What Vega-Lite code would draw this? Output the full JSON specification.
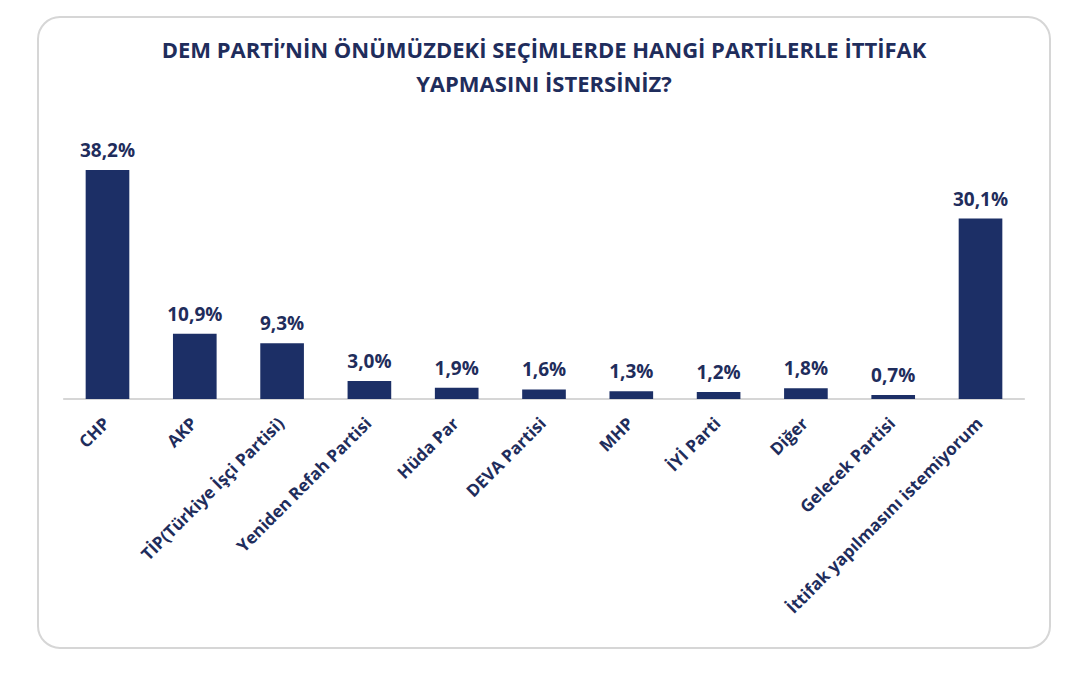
{
  "$schema": "https://vega.github.io/schema/vega-lite/v6.json",
  "width": 1012,
  "height": 631,
  "autosize": {"type": "none"},
  "padding": {"left": 38, "top": 17, "right": 18, "bottom": 36},
  "background": "white",
  "config": {
    "view": {"stroke": "#d6d6d6", "strokeWidth": 2, "cornerRadius": 22},
    "font": "Open Sans"
  },
  "title": {
    "text": ["DEM PARTİ’NİN ÖNÜMÜZDEKİ SEÇİMLERDE HANGİ PARTİLERLE İTTİFAK", "YAPMASINI İSTERSİNİZ?"],
    "anchor": "middle",
    "frame": "group",
    "offset": -80,
    "fontSize": 22,
    "font": "Open Sans",
    "fontWeight": "bold",
    "color": "#1f2d5c",
    "lineHeight": 34
  },
  "data": {
    "values": [
      {"parti": "CHP", "pct": 38.2, "label": "38,2%"},
      {"parti": "AKP", "pct": 10.9, "label": "10,9%"},
      {"parti": "TİP(Türkiye İşçi Partisi)", "pct": 9.3, "label": "9,3%"},
      {"parti": "Yeniden Refah Partisi", "pct": 3.0, "label": "3,0%"},
      {"parti": "Hüda Par", "pct": 1.9, "label": "1,9%"},
      {"parti": "DEVA Partisi", "pct": 1.6, "label": "1,6%"},
      {"parti": "MHP", "pct": 1.3, "label": "1,3%"},
      {"parti": "İYİ Parti", "pct": 1.2, "label": "1,2%"},
      {"parti": "Diğer", "pct": 1.8, "label": "1,8%"},
      {"parti": "Gelecek Partisi", "pct": 0.7, "label": "0,7%"},
      {"parti": "İttifak yapılmasını istemiyorum", "pct": 30.1, "label": "30,1%"}
    ]
  },
  "encoding": {
    "x": {
      "field": "parti",
      "type": "nominal",
      "sort": null,
      "scale": {
        "domain": ["CHP", "AKP", "TİP(Türkiye İşçi Partisi)", "Yeniden Refah Partisi", "Hüda Par", "DEVA Partisi", "MHP", "İYİ Parti", "Diğer", "Gelecek Partisi", "İttifak yapılmasını istemiyorum"],
        "paddingInner": 0.5,
        "paddingOuter": 0.546
      },
      "axis": {
        "title": null,
        "orient": "bottom",
        "offset": -249,
        "labelAngle": -45,
        "labelFontSize": 17,
        "labelFont": "Open Sans",
        "labelFontWeight": "bold",
        "labelColor": "#1f2d5c",
        "ticks": false,
        "domain": false,
        "labelPadding": 16,
        "labelOffset": -6,
        "labelLimit": 400
      }
    },
    "y": {
      "field": "pct",
      "type": "quantitative",
      "scale": {"domain": [-41.5, 63.7], "nice": false, "zero": false},
      "axis": null
    }
  },
  "layer": [
    {
      "mark": {"type": "rule", "color": "#d6d6d6", "strokeWidth": 2},
      "encoding": {
        "x": {"datum": "CHP", "bandPosition": -0.5},
        "x2": {"datum": "İttifak yapılmasını istemiyorum", "bandPosition": 1.5},
        "y": {"datum": 0},
        "y2": null
      }
    },
    {"mark": {"type": "bar", "color": "#1c2f66"}},
    {
      "mark": {"type": "text", "baseline": "bottom", "dy": -9, "fontSize": 19, "fontWeight": "bold", "color": "#1f2d5c"},
      "encoding": {"text": {"field": "label"}}
    }
  ]
}
